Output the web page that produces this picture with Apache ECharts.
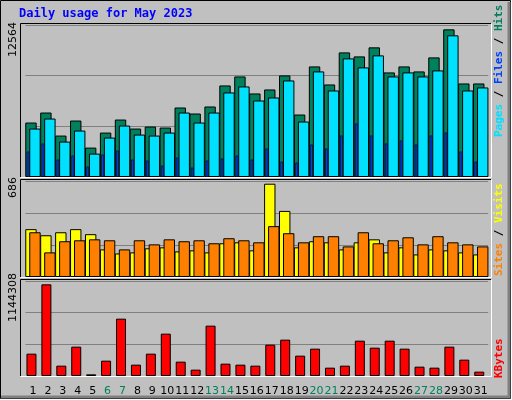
<!DOCTYPE html><html><head><meta charset="utf-8"><script src="https://cdn.jsdelivr.net/npm/echarts@6/dist/echarts.min.js"></script>
<style>html,body{margin:0;padding:0;}#c{width:512px;height:400px;}</style></head><body><div id="c"></div><script>
const days=['1','2','3','4','5','6','7','8','9','10','11','12','13','14','15','16','17','18','19','20','21','22','23','24','25','26','27','28','29','30','31'];
const weekend=['6','7','13','14','20','21','27','28'];
const hits=[4634,5487,3525,4805,2502,3781,4890,4122,4293,4208,5913,5402,5999,7790,8557,7108,7449,8643,5316,9410,7875,10604,10263,11031,8899,9410,8984,10178,12564,7960,7960];
const files=[4122,4975,3014,3952,1990,3355,4378,3611,3525,3781,5487,4634,5487,7193,7705,6510,6766,8216,4719,8984,7363,10093,9325,10349,8557,8899,8557,9069,12054,7363,7619];
const pages=[2161,2843,1478,1820,881,1905,2246,1478,1393,967,1649,796,1393,1564,1820,1478,2417,1308,1222,2758,2417,3525,4549,3525,2843,3099,2758,3525,3781,2161,1308];
const visits=[352,307,329,352,315,203,173,181,211,218,188,196,181,248,255,196,686,486,218,263,255,203,255,277,181,218,166,203,196,181,166];
const sites=[329,181,263,270,277,270,203,270,240,277,263,270,248,285,270,255,374,322,255,300,300,225,329,248,270,292,240,300,255,240,225];
const kbytes=[278800,1144308,129000,366200,20800,191400,715700,141500,278800,528400,178900,79000,628300,154000,141500,129000,391100,453500,253800,341200,104000,129000,441000,353700,441000,341200,116500,104000,366200,203900,54100];
const maxLabels=['12564','686','1144308'];
const axMax=[12934,706,1185900];
const ch=echarts.init(document.getElementById('c'));
const panels=[[25,177],[181,277],[281,376]];
const grids=panels.map(p=>({left:25.5,right:23.8,top:p[0],height:p[1]-p[0]}));
const xAxes=[],yAxes=[];
for(let i=0;i<3;i++){
  yAxes.push({gridIndex:i,type:'value',min:0,max:axMax[i],interval:axMax[i]/3,axisLabel:{show:false},axisLine:{show:false},axisTick:{show:false},splitLine:{lineStyle:{color:'#808080',width:1}}});
  xAxes.push({gridIndex:i,type:'category',data:days,axisLine:{show:false},axisTick:{show:false},
    axisLabel:{show:i===2,interval:0,margin:10,fontFamily:'DejaVu Sans',fontSize:11,color:(v)=>weekend.includes(v)?'#00805c':'#000'}});
}
xAxes.push({gridIndex:0,type:'category',data:days,show:false});
xAxes.push({gridIndex:2,type:'category',data:days,show:false});
const bs={borderColor:'#000',borderWidth:1};
const trans={color:'transparent',borderWidth:0};
const series=[
 {type:'bar',xAxisIndex:0,yAxisIndex:0,data:hits,barWidth:11.4,barGap:'-65%',itemStyle:{color:'#00805c',...bs},silent:true},
 {type:'bar',xAxisIndex:0,yAxisIndex:0,data:files,barWidth:11.4,barGap:'-65%',itemStyle:{color:'#00e0ff',...bs},silent:true},
 {type:'bar',xAxisIndex:3,yAxisIndex:0,data:pages,barWidth:2.6,barGap:0,itemStyle:{color:'#0040ff',borderColor:'#000',borderWidth:0.6},z:5,silent:true},
 {type:'bar',xAxisIndex:3,yAxisIndex:0,data:pages,barWidth:10,barGap:0,itemStyle:trans,silent:true},
 {type:'bar',xAxisIndex:1,yAxisIndex:1,data:visits,barWidth:11.4,barGap:'-65%',itemStyle:{color:'#ffff00',...bs},silent:true},
 {type:'bar',xAxisIndex:1,yAxisIndex:1,data:sites,barWidth:11.4,barGap:'-65%',itemStyle:{color:'#ff8000',...bs},silent:true},
 {type:'bar',xAxisIndex:4,yAxisIndex:2,data:kbytes,barWidth:10,barGap:0,itemStyle:{color:'#ff0000',...bs},silent:true},
 {type:'bar',xAxisIndex:4,yAxisIndex:2,data:kbytes,barWidth:3,barGap:0,itemStyle:trans,silent:true}
];
const g=[
 {type:'rect',shape:{x:0.5,y:0.5,width:510,height:398},style:{fill:'#c0c0c0',stroke:'#000',lineWidth:1},z:-10},
 {type:'polyline',shape:{points:[[1,397],[509,397],[509,2]]},style:{stroke:'#808080',lineWidth:3,fill:null},z:-9},
 {type:'text',x:19,y:8,style:{text:'Daily usage for May 2023',font:'bold 12px "DejaVu Sans Mono"',fill:'#0000ff'}}
];
panels.forEach((p,i)=>{
 g.push({type:'polyline',shape:{points:[[20.5,p[1]],[20.5,p[0]-1.5],[491,p[0]-1.5]]},style:{stroke:'#000',lineWidth:1,fill:null},z:10});
 g.push({type:'polyline',shape:{points:[[20.5,p[1]+0.5],[491.5,p[1]+0.5],[491.5,p[0]-1.5]]},style:{stroke:'#fff',lineWidth:1,fill:null},z:10});
 g.push({type:'text',x:8,y:[57,198,322][i],rotation:Math.PI/2,style:{text:maxLabels[i],font:'11px "DejaVu Sans"',fill:'#000'}});
});
const F='bold 11px "DejaVu Sans Mono"';
const rt=(x,y,rich,text)=>({type:'text',x:x,y:y,rotation:Math.PI/2,style:{text:text,font:F,rich:rich}});
g.push(rt(494,137,{a:{fill:'#00e0ff',font:F},b:{fill:'#0040ff',font:F},c:{fill:'#00805c',font:F},s:{fill:'#000',font:F}},'{a|Pages}{s| / }{b|Files}{s| / }{c|Hits}'));
g.push(rt(494,276,{a:{fill:'#ff8000',font:F},b:{fill:'#ffff00',font:F},s:{fill:'#000',font:F}},'{a|Sites}{s| / }{b|Visits}'));
g.push(rt(494,378,{a:{fill:'#ff0000',font:F}},'{a|KBytes}'));
ch.setOption({animation:false,grid:grids,xAxis:xAxes,yAxis:yAxes,series:series,graphic:g});
</script></body></html>
